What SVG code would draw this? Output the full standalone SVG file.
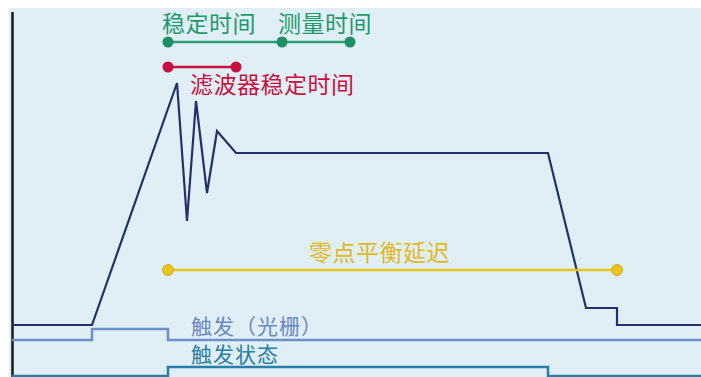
<svg xmlns="http://www.w3.org/2000/svg" width="701" height="377" viewBox="0 0 701 377">
<style>
text{font-family:"Noto Sans CJK SC","Noto Sans CJK JP",sans-serif;font-size:23px;letter-spacing:0.5px}
.g{fill:#1f9a6c}.r{fill:#c8103f}.y{fill:#e3b820}.lb{fill:#6a87c0}.tl{fill:#2a7fa0}
.s{font-size:21px;letter-spacing:1px}
.w{fill:none;stroke-linejoin:miter}
</style>
<rect x="0" y="0" width="701" height="377" fill="#ffffff"/>
<rect x="9" y="8" width="692" height="369" fill="#e0eef6"/>
<g id="axis"><line x1="12.5" y1="12" x2="12.5" y2="377" stroke="#1a1a1a" stroke-width="2.5"/></g>
<g id="connectors">
<polyline class="w" stroke="#243069" stroke-width="2.2" points="12,325 92,325 177,83 187,221 196,101 207,193 217,131 236,153 548,153 586,308 617,308 617,325 701,325"/>
<polyline class="w" stroke="#6f8fc8" stroke-width="2.5" points="12,340 92,340 92,329 168,329 168,340 701,340"/>
<polyline class="w" stroke="#2a7fa6" stroke-width="2.5" points="12,376 168,376 168,367 548,367 548,376 701,376"/>
</g>
<g id="settling-time">
<line x1="168" y1="42" x2="282" y2="42" stroke="#2a9f74" stroke-width="2.5"/>
<circle cx="168" cy="42" r="5.5" fill="#1f8f66"/>
<text class="g" x="162" y="32">稳定时间</text>
</g>
<g id="measure-time">
<line x1="282" y1="42" x2="350" y2="42" stroke="#2a9f74" stroke-width="2.5"/>
<circle cx="282" cy="42" r="5.5" fill="#1f8f66"/>
<circle cx="350" cy="42" r="5.5" fill="#1f8f66"/>
<text class="g" x="278" y="32">测量时间</text>
</g>
<g id="filter-settling">
<line x1="168" y1="67" x2="236" y2="67" stroke="#c8103f" stroke-width="2.5"/>
<circle cx="168" cy="67" r="5.5" fill="#c8103f"/>
<circle cx="236" cy="67" r="5.5" fill="#c8103f"/>
<text class="r" x="190" y="93">滤波器稳定时间</text>
</g>
<g id="zero-balance">
<line x1="168" y1="270" x2="617" y2="270" stroke="#e8c41e" stroke-width="2.5"/>
<circle cx="168" cy="270" r="5.5" fill="#e8c41e" stroke="#d4ae10" stroke-width="1"/>
<circle cx="617" cy="270" r="5.5" fill="#e8c41e" stroke="#d4ae10" stroke-width="1"/>
<text class="y" x="309" y="261">零点平衡延迟</text>
</g>
<g id="trigger-label"><text class="lb s" x="191" y="334">触发（光栅）</text></g>
<g id="trigger-state-label"><text class="tl s" x="191" y="362">触发状态</text></g>
</svg>
